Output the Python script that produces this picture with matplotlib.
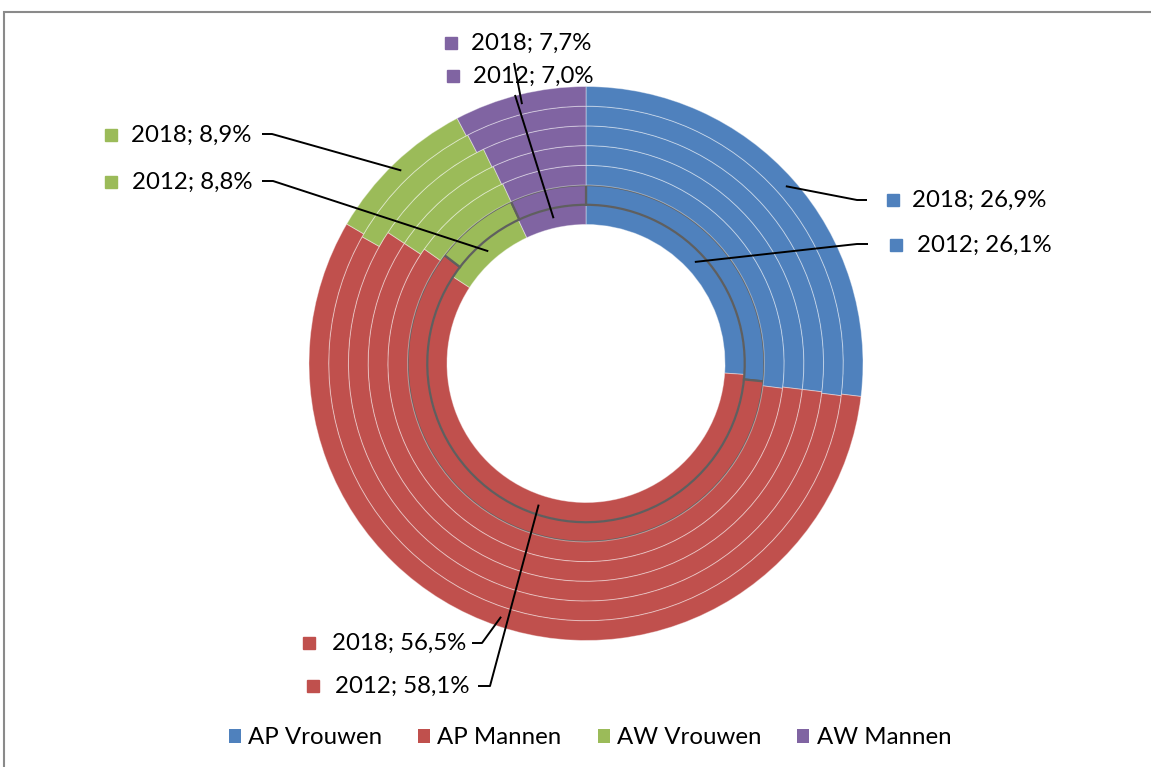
import matplotlib
matplotlib.use("Agg")
import matplotlib.pyplot as plt
import numpy as np
from matplotlib.patches import Rectangle

# ---------------- data ----------------
years = ["2012", "2013", "2014", "2015", "2016", "2017", "2018"]
categories = ["AP Vrouwen", "AP Mannen", "AW Vrouwen", "AW Mannen"]
ap_vrouwen = [26.1, 26.6, 27.0, 26.9, 26.9, 27.0, 26.9]
ap_mannen = [58.1, 58.8, 57.8, 57.4, 57.4, 56.2, 56.5]
aw_vrouwen = [8.8, 7.7, 8.3, 8.7, 8.6, 9.2, 8.9]
aw_mannen = [7.0, 6.9, 6.9, 7.0, 7.1, 7.6, 7.7]
labelled_years = ["2018", "2012"]

colors = ["#4F81BD", "#C0504D", "#9BBB59", "#8064A2"]

# ---------------- layout ----------------
W, H = 1151, 767
fig = plt.figure(figsize=(W / 100, H / 100), dpi=100)
ax = fig.add_axes([0, 0, 1, 1])
FONT = "Lato"
FS = 17.3

def Y(ypx):
    return H - ypx

cx, cy = 586, Y(363.5)
r_in, r_out = 139, 277
n = len(years)
ring_w = (r_out - r_in) / n

series = [ap_vrouwen, ap_mannen, aw_vrouwen, aw_mannen]
legend_handles = None
for i, yr in enumerate(years):
    vals = [s[i] for s in series]
    r = r_in + ring_w * (i + 1)
    if yr == "2013":
        wp = dict(width=ring_w, edgecolor="#5f5f5f", linewidth=1.6)
    else:
        wp = dict(width=ring_w, edgecolor=(1, 1, 1, 0.4), linewidth=0.7)
    wedges, _ = ax.pie(vals, radius=r, center=(cx, cy), startangle=90,
                       counterclock=False, colors=colors, wedgeprops=wp,
                       frame=True)
    if i == n - 1:
        legend_handles = wedges

# ---------------- data labels ----------------
def anchor(year, cat_idx):
    i = years.index(year)
    vals = [s[i] for s in series]
    start = sum(vals[:cat_idx])
    mid = start + vals[cat_idx] / 2
    ang = np.deg2rad(90 - mid / 100 * 360)
    r = r_in + ring_w * (i + 0.5)
    return cx + r * np.cos(ang), cy + r * np.sin(ang)

# (category index, year, marker x, text x, label y, elbow points in px)
label_layout = [
    (0, "2018", 893, 912, 200, [(867, 200), (857, 200)]),
    (0, "2012", 896, 917, 245, [(868, 244), (857, 244)]),
    (2, "2018", 111, 131, 135, [(262, 134), (272, 134)]),
    (2, "2012", 111, 132, 182, [(262, 181), (273, 181)]),
    (3, "2018", 451, 471, 43, [(514, 63)]),
    (3, "2012", 453, 473, 76, [(515, 95)]),
    (1, "2018", 309, 332, 643, [(472, 643), (482, 643)]),
    (1, "2012", 313, 335, 686, [(478, 686), (490, 686)]),
]

for cat_idx, yr, mx, tx, ly, elbows in label_layout:
    val = series[cat_idx][years.index(yr)]
    txt = f"{yr}; {val:.1f}%".replace(".", ",")
    ax.plot([mx], [Y(ly)], marker="s", markersize=9, color=colors[cat_idx],
            linestyle="none")
    ax.text(tx, Y(ly), txt, fontsize=FS, family=FONT, ha="left",
            va="center", color="black")
    ax_, ay_ = anchor(yr, cat_idx)
    xs = [e[0] for e in elbows] + [ax_]
    ys = [Y(e[1]) for e in elbows] + [ay_]
    ax.plot(xs, ys, color="black", linewidth=1.4, solid_capstyle="butt")

# ---------------- legend ----------------
leg = ax.legend(legend_handles, categories, loc="center",
                bbox_to_anchor=(590 / W, 1 - 738 / H), ncol=4, frameon=False,
                handlelength=0.5, handleheight=0.5, handletextpad=0.3,
                columnspacing=1.5, prop={"family": FONT, "size": FS})
for h in leg.legend_handles:
    h.set_edgecolor("none")

# ---------------- frame ----------------
ax.add_patch(Rectangle((4 / W, -0.1), 1.2, 1.1 - 12 / H + 0.0,
                       transform=ax.transAxes, fill=False,
                       edgecolor="#8a8a8a", linewidth=1.5, clip_on=False))

ax.set_xlim(0, W)
ax.set_ylim(0, H)
ax.set_axis_off()
fig.savefig("out.png", dpi=100)
